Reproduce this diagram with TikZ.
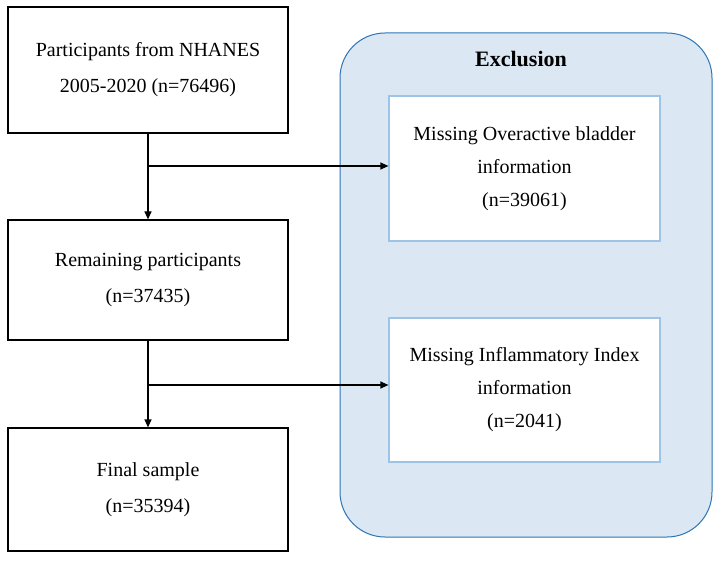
\documentclass[tikz,border=0pt]{standalone}
\usepackage{fontspec}
\setmainfont{Liberation Serif}
\usetikzlibrary{arrows.meta}
\definecolor{exfill}{HTML}{DCE7F4}
\definecolor{exline}{HTML}{2E75B6}
\definecolor{inline}{HTML}{9DC3E6}
\begin{document}
\begin{tikzpicture}[x=1pt,y=-1pt,
  box/.style={draw=black,line width=1.2pt,fill=white,align=center,font=\fontsize{20}{36}\selectfont},
  ibox/.style={draw=inline,line width=1.2pt,fill=white,align=center,font=\fontsize{20}{33}\selectfont},
  arr/.style={line width=1.2pt,-{Triangle[length=8pt,width=7pt]}}]
\useasboundingbox (0,0) rectangle (720,561);
\node[draw=exline,fill=exfill,line width=1pt,rounded corners=45pt,minimum width=372pt,minimum height=504pt] (ex) at (526,285) {};
\node[font=\fontsize{22}{24}\selectfont\bfseries] (ext) at (521,59) {Exclusion};
\node[box,minimum width=280pt,minimum height=126pt] (b1) at (148,70) {Participants from NHANES\\2005-2020 (n=76496)};
\node[box,minimum width=280pt,minimum height=120pt] (b2) at (148,280) {Remaining participants\\(n=37435)};
\node[box,minimum width=280pt,minimum height=123pt] (b3) at (148,489.5) {Final sample\\(n=35394)};
\node[ibox,minimum width=271pt,minimum height=145pt] (b4) at (524.5,168.5) {Missing Overactive bladder\\information\\(n=39061)};
\node[ibox,minimum width=271pt,minimum height=144pt] (b5) at (524.5,390) {Missing Inflammatory Index\\information\\(n=2041)};
\coordinate (j1) at (148,166);
\coordinate (j2) at (148,385);
\draw[arr] (b1.south) -- (b2.north);
\draw[arr] (j1) -- (j1 -| b4.west);
\draw[arr] (b2.south) -- (b3.north);
\draw[arr] (j2) -- (j2 -| b5.west);
\end{tikzpicture}
\end{document}
